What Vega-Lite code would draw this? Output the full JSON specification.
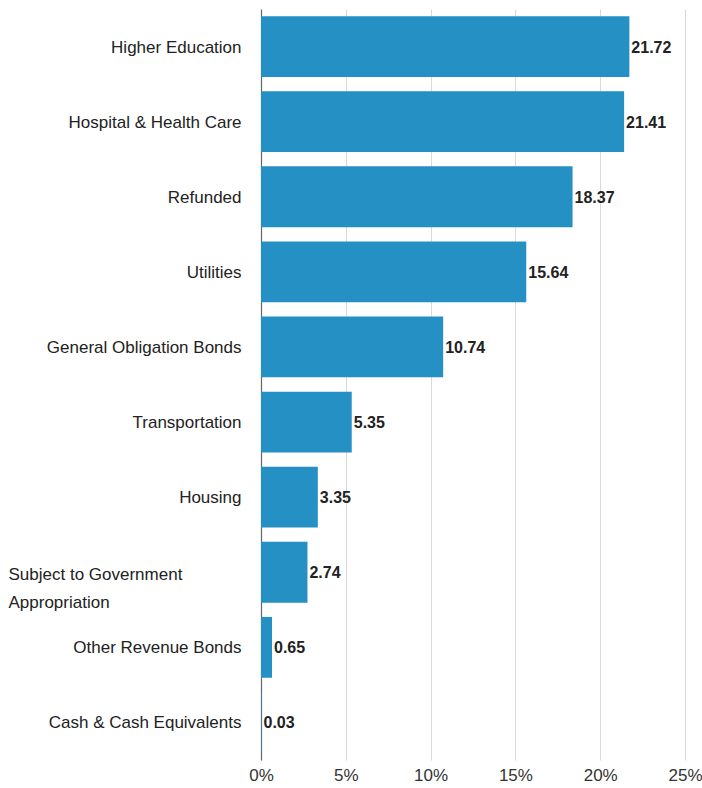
{
  "$schema": "https://vega.github.io/schema/vega-lite/v6.json",
  "autosize": {"type": "none"},
  "padding": {"left": 261, "top": 9, "right": 17, "bottom": 28},
  "width": 424,
  "height": 751,
  "background": "white",
  "config": {"view": {"stroke": null}, "font": "Liberation Sans"},
  "data": {"values": [
    {"sector": "Higher Education", "value": 21.72},
    {"sector": "Hospital & Health Care", "value": 21.41},
    {"sector": "Refunded", "value": 18.37},
    {"sector": "Utilities", "value": 15.64},
    {"sector": "General Obligation Bonds", "value": 10.74},
    {"sector": "Transportation", "value": 5.35},
    {"sector": "Housing", "value": 3.35},
    {"sector": "Subject to Government Appropriation", "value": 2.74},
    {"sector": "Other Revenue Bonds", "value": 0.65},
    {"sector": "Cash & Cash Equivalents", "value": 0.03}
  ]},
  "encoding": {
    "y": {
      "field": "sector", "type": "nominal", "sort": null,
      "scale": {"paddingInner": 0.19, "paddingOuter": 0.095},
      "axis": {
        "title": null, "ticks": false, "domain": true, "domainColor": "#666666", "domainWidth": 1.2,
        "labelFontSize": 17, "labelColor": "#222222", "labelLimit": 300,
        "labelPadding": {"condition": {"test": "datum.value == 'Subject to Government Appropriation'", "value": 253}, "value": 20},
        "labelAlign": {"condition": {"test": "datum.value == 'Subject to Government Appropriation'", "value": "left"}, "value": "right"},
        "labelExpr": "datum.value == 'Subject to Government Appropriation' ? ['Subject to Government', 'Appropriation'] : datum.value",
        "labelLineHeight": 28,
        "labelOffset": {"condition": {"test": "datum.value == 'Subject to Government Appropriation'", "value": 2.5}, "value": 1},
        "grid": false
      }
    },
    "x": {
      "field": "value", "type": "quantitative",
      "scale": {"domain": [0, 25], "nice": false},
      "axis": {
        "title": null, "values": [0, 5, 10, 15, 20, 25], "labelExpr": "datum.value + '%'",
        "domain": false, "ticks": false, "grid": true, "gridColor": "#d9d9d9", "gridWidth": 1,
        "labelFontSize": 17, "labelColor": "#333333", "labelPadding": 7, "labelFlush": false
      }
    }
  },
  "layer": [
    {"mark": {"type": "bar", "color": "#2490c4"}},
    {"mark": {"type": "text", "align": "left", "dx": 2, "dy": 1, "fontSize": 16, "fontWeight": "bold", "color": "#222222"},
     "encoding": {"text": {"field": "value", "type": "quantitative", "format": ".2f"}}}
  ]
}
